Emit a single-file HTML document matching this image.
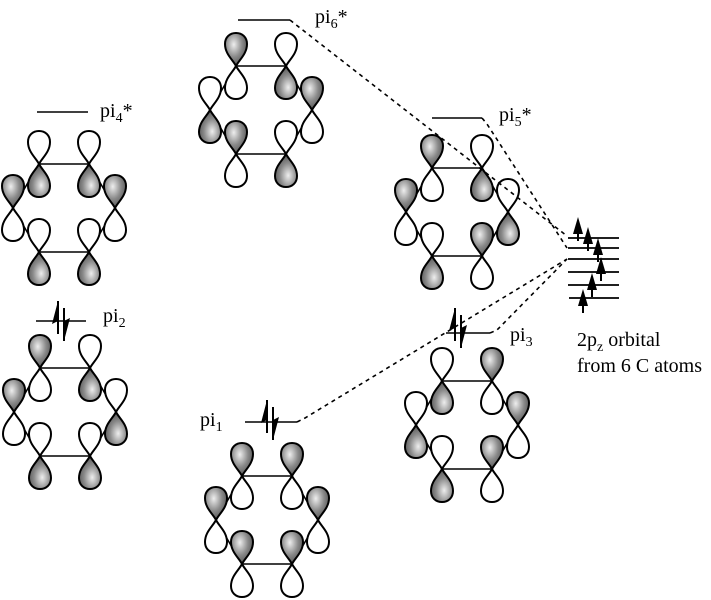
<!DOCTYPE html>
<html><head><meta charset="utf-8"><style>
html,body{margin:0;padding:0;background:#fff;}
svg{display:block;}
text{font-family:"Liberation Serif",serif;font-size:20px;fill:#000;}
.s{fill:url(#g);stroke:#000;stroke-width:2;}
.w{fill:#fff;stroke:#000;stroke-width:2;}
.hx{fill:none;stroke:#000;stroke-width:1.6;}
.d{fill:none;stroke:#000;stroke-width:1.6;stroke-dasharray:4,4;}
.lv{stroke:#000;stroke-width:1.6;fill:none;}
</style></head><body>
<svg width="711" height="600" viewBox="0 0 711 600" xmlns="http://www.w3.org/2000/svg">
<defs>
<radialGradient id="g" cx="0.4" cy="0.35" r="0.75">
<stop offset="0" stop-color="#eeeeee"/><stop offset="0.5" stop-color="#8a8a8a"/><stop offset="1" stop-color="#444"/>
</radialGradient>
<path id="L" d="M0,0 C-3,-6 -11,-12 -11,-22 C-11,-29 -6,-33 0,-33 C6,-33 11,-29 11,-22 C11,-12 3,-6 0,0Z"/>
<g id="U"><use href="#L" class="s"/><use href="#L" class="w" transform="rotate(180)"/></g>
<g id="D"><use href="#L" class="w"/><use href="#L" class="s" transform="rotate(180)"/></g>
<polygon id="H" class="hx" points="-25,-44 25,-44 51,0 25,44 -25,44 -51,0"/>
<g id="E">
<line x1="-3" y1="13" x2="-3" y2="-20" stroke="#000" stroke-width="2"/>
<path d="M-3,-20 L-9,3 L-3,0Z" fill="#000"/>
<line x1="3" y1="-13" x2="3" y2="20" stroke="#000" stroke-width="2"/>
<path d="M3,20 L9,-3 L3,0Z" fill="#000"/>
</g>
<g id="A"><line x1="0" y1="0" x2="0" y2="-14" stroke="#000" stroke-width="2"/><path d="M-5,-7 L0,-24 L5,-7Z" fill="#000"/></g>
</defs>

<!-- levels -->
<line class="lv" x1="238" y1="20" x2="290" y2="20"/>
<line class="lv" x1="37" y1="112" x2="88" y2="112"/>
<line class="lv" x1="432" y1="118" x2="482" y2="118"/>
<line class="lv" x1="36" y1="321" x2="86" y2="321"/>
<line class="lv" x1="446" y1="333" x2="490" y2="333"/>
<line class="lv" x1="245" y1="422" x2="297" y2="422"/>

<use href="#E" x="61" y="321"/>
<use href="#E" x="458" y="328"/>
<use href="#E" x="270" y="420"/>

<!-- labels -->
<text x="315" y="23">pi<tspan font-size="14" dy="5">6</tspan><tspan dy="-5">*</tspan></text>
<text x="100" y="117">pi<tspan font-size="14" dy="5">4</tspan><tspan dy="-5">*</tspan></text>
<text x="499" y="121">pi<tspan font-size="14" dy="5">5</tspan><tspan dy="-5">*</tspan></text>
<text x="103" y="322">pi<tspan font-size="14" dy="5">2</tspan></text>
<text x="510" y="341">pi<tspan font-size="14" dy="5">3</tspan></text>
<text x="200" y="426">pi<tspan font-size="14" dy="5">1</tspan></text>
<text x="577" y="346">2p<tspan font-size="14" dy="5">z</tspan><tspan dy="-5"> orbital</tspan></text>
<text x="577" y="372">from 6 C atoms</text>

<!-- 2pz stack -->
<g stroke="#000" stroke-width="1.8">
<line x1="568" y1="238" x2="619" y2="238"/>
<line x1="568" y1="248" x2="619" y2="248"/>
<line x1="568" y1="259" x2="619" y2="259"/>
<line x1="568" y1="272" x2="619" y2="272"/>
<line x1="568" y1="285" x2="619" y2="285"/>
<line x1="569" y1="298" x2="619" y2="298"/>
</g>
<use href="#A" x="578" y="241"/>
<use href="#A" x="588" y="251"/>
<use href="#A" x="598" y="262"/>
<use href="#A" x="601" y="281"/>
<use href="#A" x="592" y="297"/>
<use href="#A" x="583" y="313"/>

<!-- pi6* -->
<g transform="translate(261,110)"><use href="#H"/>
<use href="#U" x="-25" y="-44"/><use href="#D" x="25" y="-44"/><use href="#D" x="-51" y="0"/><use href="#U" x="51" y="0"/><use href="#U" x="-25" y="44"/><use href="#D" x="25" y="44"/></g>
<!-- pi4* -->
<g transform="translate(64,208)"><use href="#H"/>
<use href="#D" x="-25" y="-44"/><use href="#D" x="25" y="-44"/><use href="#U" x="-51" y="0"/><use href="#U" x="51" y="0"/><use href="#D" x="-25" y="44"/><use href="#D" x="25" y="44"/></g>
<!-- pi5* -->
<g transform="translate(457,212)"><use href="#H"/>
<use href="#U" x="-25" y="-44"/><use href="#D" x="25" y="-44"/><use href="#U" x="-51" y="0"/><use href="#D" x="51" y="0"/><use href="#D" x="-25" y="44"/><use href="#U" x="25" y="44"/></g>
<!-- pi2 -->
<g transform="translate(65,412)"><use href="#H"/>
<use href="#U" x="-25" y="-44"/><use href="#D" x="25" y="-44"/><use href="#U" x="-51" y="0"/><use href="#D" x="51" y="0"/><use href="#D" x="-25" y="44"/><use href="#D" x="25" y="44"/></g>
<!-- pi3 -->
<g transform="translate(467,425)"><use href="#H"/>
<use href="#D" x="-25" y="-44"/><use href="#U" x="25" y="-44"/><use href="#D" x="-51" y="0"/><use href="#U" x="51" y="0"/><use href="#D" x="-25" y="44"/><use href="#U" x="25" y="44"/></g>
<!-- pi1 -->
<g transform="translate(267,520)"><use href="#H"/>
<use href="#U" x="-25" y="-44"/><use href="#U" x="25" y="-44"/><use href="#U" x="-51" y="0"/><use href="#U" x="51" y="0"/><use href="#U" x="-25" y="44"/><use href="#U" x="25" y="44"/></g>

<!-- dashed connectors (on top) -->
<polyline class="d" points="290,20 295,24 567,236"/>
<polyline class="d" points="482,118 487,124 567,248"/>
<polyline class="d" points="490,333 497,330 567,259"/>
<polyline class="d" points="297,422 305,418 567,259"/>
</svg>
</body></html>
